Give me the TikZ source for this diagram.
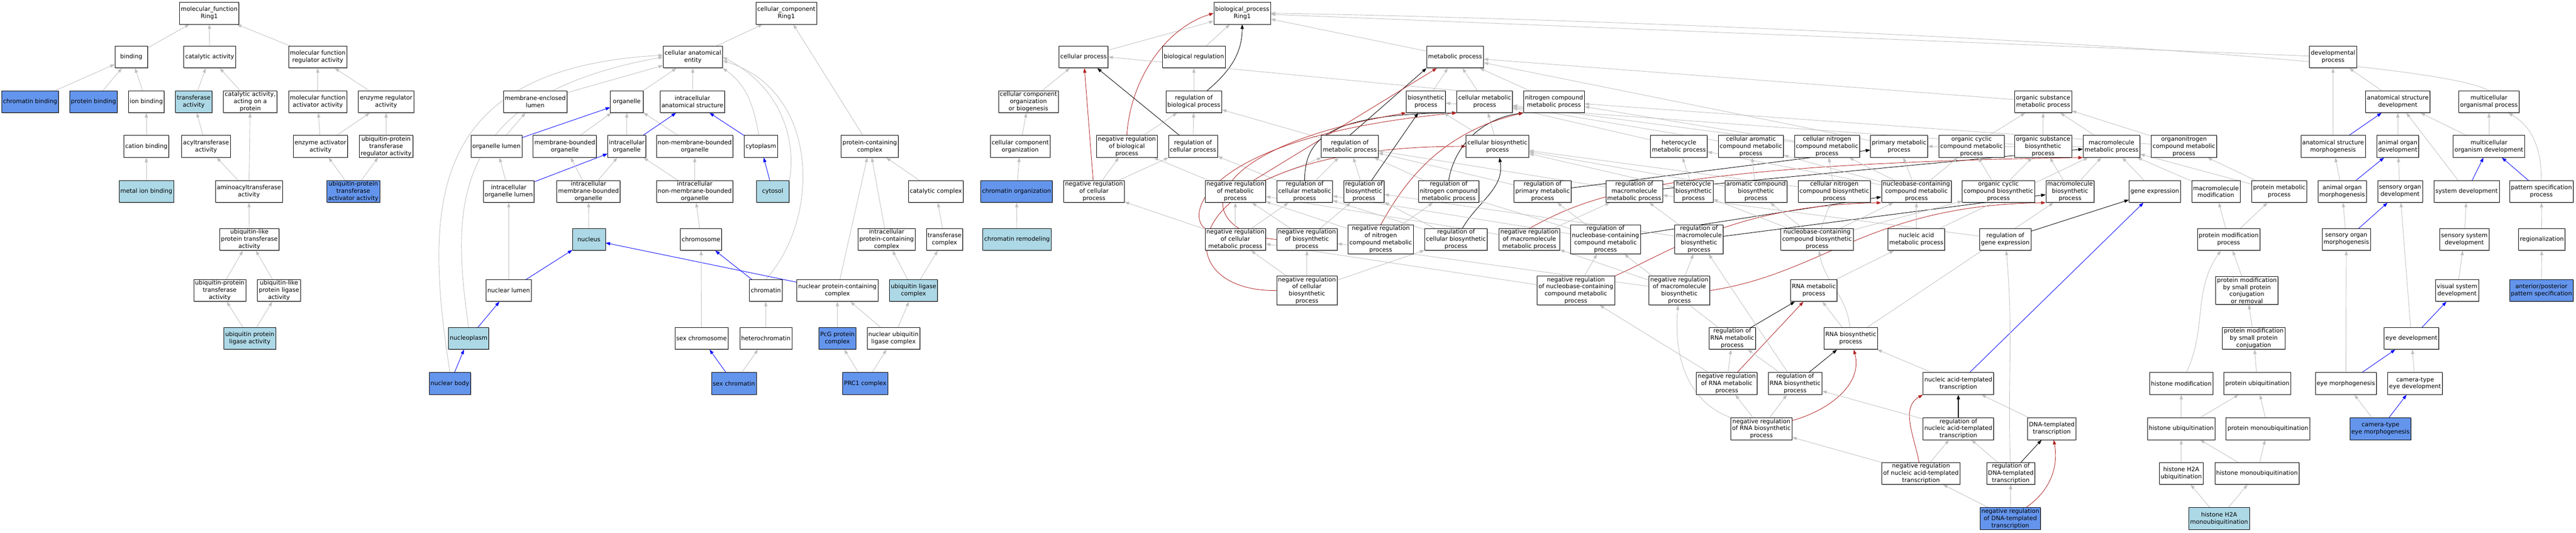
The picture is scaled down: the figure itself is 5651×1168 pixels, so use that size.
\documentclass[tikz,border=0pt]{standalone}
\usepackage{fontspec}
\setmainfont{DejaVu Sans}
\usetikzlibrary{arrows.meta,shadows}
\definecolor{hitblue}{HTML}{6495ED}
\definecolor{ancblue}{HTML}{ADD8E6}
\definecolor{edgegray}{HTML}{C0C0C0}
\definecolor{negred}{HTML}{B22222}
\pgfdeclarelayer{background}
\pgfsetlayers{background,main}
\tikzset{
  term/.style={draw=black, fill=white, line width=0.9pt, minimum width=72pt, minimum height=48pt,
    inner xsep=3pt, inner ysep=2pt, align=center, font=\fontsize{13}{15.6}\selectfont,
    drop shadow={shadow xshift=1.2pt, shadow yshift=-1.2pt, fill=black!60}},
  hit/.style={term, fill=hitblue},
  anc/.style={term, fill=ancblue},
  isa/.style={draw=edgegray, line width=1pt, -{Triangle[length=10pt,width=7pt]}},
  partof/.style={draw=blue, line width=1pt, -{Triangle[length=10pt,width=7pt]}},
  regby/.style={draw=black, line width=1pt, -{Triangle[length=10pt,width=7pt]}},
  negreg/.style={draw=negred, line width=1pt, -{Triangle[length=10pt,width=7pt]}}
}
\begin{document}
\begin{tikzpicture}[x=1pt,y=-1pt]
\useasboundingbox (0,0) rectangle (5651,1168);
% molecular function
\node[term] (mfroot) at (459,29) {molecular\_function\\Ring1};
\node[term] (binding) at (288,125) {binding};
\node[term] (catact) at (460,125) {catalytic activity};
\node[term] (mfreg) at (697,125) {molecular function\\regulator activity};
\node[hit] (chrbind) at (66,223) {chromatin binding};
\node[hit] (protbind) at (205,223) {protein binding};
\node[term] (ionbind) at (321,223) {ion binding};
\node[anc] (transf) at (425,223) {transferase\\activity};
\node[term] (catprot) at (549,223) {catalytic activity,\\acting on a\\protein};
\node[term] (mfact) at (697,223) {molecular function\\activator activity};
\node[term] (enzreg) at (847,223) {enzyme regulator\\activity};
\node[term] (catbind) at (321,321) {cation binding};
\node[term] (acyl) at (452,321) {acyltransferase\\activity};
\node[term] (enzact) at (703,321) {enzyme activator\\activity};
\node[term] (ubreg) at (847,321) {ubiquitin-protein\\transferase\\regulator activity};
\node[anc] (metbind) at (321,420) {metal ion binding};
\node[term] (aminoacyl) at (546,420) {aminoacyltransferase\\activity};
\node[hit] (ubact) at (775,420) {ubiquitin-protein\\transferase\\activator activity};
\node[term] (ubltrans) at (547,525) {ubiquitin-like\\protein transferase\\activity};
\node[term] (ubptrans) at (482,637) {ubiquitin-protein\\transferase\\activity};
\node[term] (ublig) at (612,637) {ubiquitin-like\\protein ligase\\activity};
\node[anc] (ubplig) at (548,742) {ubiquitin protein\\ligase activity};
% cellular component
\node[term] (ccroot) at (1725,29) {cellular\_component\\Ring1};
\node[term] (cae) at (1520,125) {cellular anatomical\\entity};
\node[term] (memlumen) at (1174,223) {membrane-enclosed\\lumen};
\node[term] (organelle) at (1375,223) {organelle};
\node[term] (ias) at (1519,223) {intracellular\\anatomical structure};
\node[term] (orglumen) at (1089,321) {organelle lumen};
\node[term] (mbo) at (1239,321) {membrane-bounded\\organelle};
\node[term] (io) at (1375,321) {intracellular\\organelle};
\node[term] (nmbo) at (1524,321) {non-membrane-bounded\\organelle};
\node[term] (cytoplasm) at (1669,321) {cytoplasm};
\node[term] (pcc) at (1908,321) {protein-containing\\complex};
\node[term] (iol) at (1116,420) {intracellular\\organelle lumen};
\node[term] (imbo) at (1291,420) {intracellular\\membrane-bounded\\organelle};
\node[term] (inmbo) at (1524,420) {intracellular\\non-membrane-bounded\\organelle};
\node[anc] (cytosol) at (1695,420) {cytosol};
\node[term] (catcomplex) at (2053,420) {catalytic complex};
\node[anc] (nucleus) at (1292,525) {nucleus};
\node[term] (chromosome) at (1538,525) {chromosome};
\node[term] (ipcc) at (1945,525) {intracellular\\protein-containing\\complex};
\node[term] (tcomplex) at (2072,525) {transferase\\complex};
\node[term] (nuclumen) at (1116,637) {nuclear lumen};
\node[term] (chromatin) at (1680,637) {chromatin};
\node[term] (npcc) at (1837,637) {nuclear protein-containing\\complex};
\node[anc] (ulc) at (2004,637) {ubiquitin ligase\\complex};
\node[anc] (nucleoplasm) at (1028,742) {nucleoplasm};
\node[term] (sexchrom) at (1539,742) {sex chromosome};
\node[term] (heterochr) at (1680,742) {heterochromatin};
\node[hit] (pcg) at (1837,742) {PcG protein\\complex};
\node[term] (nulc) at (1960,742) {nuclear ubiquitin\\ligase complex};
\node[hit] (nucbody) at (987,841) {nuclear body};
\node[hit] (sexchromatin) at (1610,841) {sex chromatin};
\node[hit] (prc1) at (1898,841) {PRC1 complex};
% biological process
\node[term] (bproot) at (2725,29) {biological\_process\\Ring1};
\node[term] (cellproc) at (2377,125) {cellular process};
\node[term] (bioreg) at (2619,125) {biological regulation};
\node[term] (metproc) at (3192,125) {metabolic process};
\node[term] (devproc) at (5118,125) {developmental\\process};
\node[term] (ccob) at (2256,223) {cellular component\\organization\\or biogenesis};
\node[term] (regbp) at (2619,223) {regulation of\\biological process};
\node[term] (biosyn) at (3128,223) {biosynthetic\\process};
\node[term] (cellmet) at (3257,223) {cellular metabolic\\process};
\node[term] (ncmp) at (3409,223) {nitrogen compound\\metabolic process};
\node[term] (osmp) at (4482,223) {organic substance\\metabolic process};
\node[term] (asd) at (5260,223) {anatomical structure\\development};
\node[term] (mop) at (5460,223) {multicellular\\organismal process};
\node[term] (cco) at (2238,321) {cellular component\\organization};
\node[term] (nrbp) at (2472,321) {negative regulation\\of biological\\process};
\node[term] (regcp) at (2617,321) {regulation of\\cellular process};
\node[term] (regmp) at (2961,321) {regulation of\\metabolic process};
\node[term] (cellbiosyn) at (3285,321) {cellular biosynthetic\\process};
\node[term] (hetmet) at (3683,321) {heterocycle\\metabolic process};
\node[term] (camp) at (3841,321) {cellular aromatic\\compound metabolic\\process};
\node[term] (cncmp) at (4008,321) {cellular nitrogen\\compound metabolic\\process};
\node[term] (pmp) at (4166,321) {primary metabolic\\process};
\node[term] (occmp) at (4325,321) {organic cyclic\\compound metabolic\\process};
\node[term] (osbp) at (4482,321) {organic substance\\biosynthetic\\process};
\node[term] (mmp) at (4632,321) {macromolecule\\metabolic process};
\node[term] (oncmp) at (4791,321) {organonitrogen\\compound metabolic\\process};
\node[term] (asm) at (5118,321) {anatomical structure\\morphogenesis};
\node[term] (aod) at (5260,321) {animal organ\\development};
\node[term] (mod) at (5460,321) {multicellular\\organism development};
\node[hit] (chrorg) at (2230,420) {chromatin organization};
\node[term] (nrcp) at (2400,420) {negative regulation\\of cellular\\process};
\node[term] (nrmp) at (2710,420) {negative regulation\\of metabolic\\process};
\node[term] (regcmp) at (2862,420) {regulation of\\cellular metabolic\\process};
\node[term] (regbiosyn) at (2992,420) {regulation of\\biosynthetic\\process};
\node[term] (regncmp) at (3178,420) {regulation of\\nitrogen compound\\metabolic process};
\node[term] (regpmp) at (3384,420) {regulation of\\primary metabolic\\process};
\node[term] (regmmp) at (3585,420) {regulation of\\macromolecule\\metabolic process};
\node[term] (hetbiosyn) at (3715,420) {heterocycle\\biosynthetic\\process};
\node[term] (acbp) at (3852,420) {aromatic compound\\biosynthetic\\process};
\node[term] (cncbp) at (4024,420) {cellular nitrogen\\compound biosynthetic\\process};
\node[term] (nccmp) at (4204,420) {nucleobase-containing\\compound metabolic\\process};
\node[term] (occbp) at (4384,420) {organic cyclic\\compound biosynthetic\\process};
\node[term] (mbp) at (4541,420) {macromolecule\\biosynthetic\\process};
\node[term] (geneexp) at (4727,420) {gene expression};
\node[term] (macmod) at (4861,420) {macromolecule\\modification};
\node[term] (protmet) at (5000,420) {protein metabolic\\process};
\node[term] (aom) at (5138,420) {animal organ\\morphogenesis};
\node[term] (sod) at (5265,420) {sensory organ\\development};
\node[term] (sysdev) at (5411,420) {system development};
\node[term] (psp) at (5575,420) {pattern specification\\process};
\node[anc] (chrremod) at (2231,525) {chromatin remodeling};
\node[term] (nrcmp) at (2710,525) {negative regulation\\of cellular\\metabolic process};
\node[term] (nrbiosyn) at (2867,525) {negative regulation\\of biosynthetic\\process};
\node[term] (nrncmp) at (3029,525) {negative regulation\\of nitrogen\\compound metabolic\\process};
\node[term] (regcbp) at (3194,525) {regulation of\\cellular biosynthetic\\process};
\node[term] (nrmmp) at (3355,525) {negative regulation\\of macromolecule\\metabolic process};
\node[term] (regnccmp) at (3522,525) {regulation of\\nucleobase-containing\\compound metabolic\\process};
\node[term] (regmbp) at (3727,525) {regulation of\\macromolecule\\biosynthetic\\process};
\node[term] (nccbp) at (3986,525) {nucleobase-containing\\compound biosynthetic\\process};
\node[term] (nucacid) at (4204,525) {nucleic acid\\metabolic process};
\node[term] (reggeneexp) at (4399,525) {regulation of\\gene expression};
\node[term] (protmod) at (4889,525) {protein modification\\process};
\node[term] (som) at (5147,525) {sensory organ\\morphogenesis};
\node[term] (ssd) at (5406,525) {sensory system\\development};
\node[term] (regionalization) at (5576,525) {regionalization};
\node[term] (nrcbp) at (2867,637) {negative regulation\\of cellular\\biosynthetic\\process};
\node[term] (nrnccmp) at (3457,637) {negative regulation\\of nucleobase-containing\\compound metabolic\\process};
\node[term] (nrmbp) at (3684,637) {negative regulation\\of macromolecule\\biosynthetic\\process};
\node[term] (rnamet) at (3979,637) {RNA metabolic\\process};
\node[term] (pmspcr) at (4929,637) {protein modification\\by small protein\\conjugation\\or removal};
\node[term] (vsd) at (5390,637) {visual system\\development};
\node[hit] (apps) at (5575,637) {anterior/posterior\\pattern specification};
\node[term] (regrnamet) at (3800,742) {regulation of\\RNA metabolic\\process};
\node[term] (rnabiosyn) at (4060,742) {RNA biosynthetic\\process};
\node[term] (pmspc) at (4944,742) {protein modification\\by small protein\\conjugation};
\node[term] (eyedev) at (5290,742) {eye development};
\node[term] (nrrnamet) at (3788,841) {negative regulation\\of RNA metabolic\\process};
\node[term] (regrnabiosyn) at (3938,841) {regulation of\\RNA biosynthetic\\process};
\node[term] (natt) at (4296,841) {nucleic acid-templated\\transcription};
\node[term] (histmod) at (4785,841) {histone modification};
\node[term] (protubq) at (4952,841) {protein ubiquitination};
\node[term] (eyemorph) at (5146,841) {eye morphogenesis};
\node[term] (ctedev) at (5298,841) {camera-type\\eye development};
\node[term] (nrrnabiosyn) at (3864,940) {negative regulation\\of RNA biosynthetic\\process};
\node[term] (regnatt) at (4296,940) {regulation of\\nucleic acid-templated\\transcription};
\node[term] (dtt) at (4501,940) {DNA-templated\\transcription};
\node[term] (histubq) at (4785,940) {histone ubiquitination};
\node[term] (protmono) at (4975,940) {protein monoubiquitination};
\node[hit] (ctem) at (5222,940) {camera-type\\eye morphogenesis};
\node[term] (nrnatt) at (4214,1038) {negative regulation\\of nucleic acid-templated\\transcription};
\node[term] (regdtt) at (4411,1038) {regulation of\\DNA-templated\\transcription};
\node[term] (h2aubq) at (4785,1038) {histone H2A\\ubiquitination};
\node[term] (histmono) at (4951,1038) {histone monoubiquitination};
\node[hit] (nrdtt) at (4410,1137) {negative regulation\\of DNA-templated\\transcription};
\node[anc] (h2amono) at (4868,1137) {histone H2A\\monoubiquitination};
\begin{pgfonlayer}{background}
\fill[white] (0,0) rectangle (5651,1168);
% molecular function edges
\draw[isa] (binding) -- (mfroot); \draw[isa] (catact) -- (mfroot); \draw[isa] (mfreg) -- (mfroot);
\draw[isa] (chrbind) -- (binding); \draw[isa] (protbind) -- (binding); \draw[isa] (ionbind) -- (binding);
\draw[isa] (transf) -- (catact); \draw[isa] (catprot) -- (catact);
\draw[isa] (mfact) -- (mfreg); \draw[isa] (enzreg) -- (mfreg);
\draw[isa] (catbind) -- (ionbind); \draw[isa] (metbind) -- (catbind); \draw[isa] (acyl) -- (transf);
\draw[isa] (enzact) -- (mfact); \draw[isa] (enzact) -- (enzreg); \draw[isa] (ubreg) -- (enzreg);
\draw[isa] (aminoacyl) -- (acyl); \draw[isa] (aminoacyl) -- (catprot);
\draw[isa] (ubact) -- (enzact); \draw[isa] (ubact) -- (ubreg);
\draw[isa] (ubltrans) -- (aminoacyl);
\draw[isa] (ubptrans) -- (ubltrans); \draw[isa] (ublig) -- (ubltrans);
\draw[isa] (ubplig) -- (ubptrans); \draw[isa] (ubplig) -- (ublig);
% cellular component edges
\draw[isa] (cae) -- (ccroot); \draw[isa] (pcc) -- (ccroot);
\draw[isa] (memlumen) -- (cae); \draw[isa] (organelle) -- (cae); \draw[isa] (ias) -- (cae);
\draw[isa] (cytoplasm) to[out=100,in=-35] (cae.south east);
\draw[isa] (cytosol.north east) .. controls (1745,330) and (1730,200) .. (cae.east);
\draw[isa] (chromatin.north) .. controls (1800,480) and (1800,200) .. ([yshift=-8pt]cae.east);
\draw[isa] (nucleoplasm.north) .. controls (990,450) and (985,210) .. (cae.west);
\draw[isa] (nucbody.north) .. controls (930,450) and (935,150) .. ([yshift=4pt]cae.west);
\draw[isa] (orglumen) -- (memlumen); \draw[partof] (orglumen) -- (organelle);
\draw[isa] (mbo) -- (organelle); \draw[isa] (io) -- (organelle); \draw[isa] (nmbo) -- (organelle);
\draw[partof] (io) -- (ias); \draw[partof] (cytoplasm) -- (ias);
\draw[isa] (iol) -- (orglumen); \draw[partof] (iol) -- (io);
\draw[isa] (imbo) -- (mbo); \draw[isa] (imbo) -- (io);
\draw[isa] (inmbo) -- (io); \draw[isa] (inmbo) -- (nmbo);
\draw[partof] (cytosol) -- (cytoplasm);
\draw[isa] (nucleus) -- (imbo); \draw[isa] (chromosome) -- (inmbo);
\draw[isa] (nuclumen) -- (iol); \draw[partof] (nuclumen) -- (nucleus);
\draw[partof] (chromatin) -- (chromosome); \draw[partof] (npcc) -- (nucleus);
\draw[isa] (npcc) -- (pcc); \draw[isa] (ipcc) -- (pcc); \draw[isa] (catcomplex) -- (pcc);
\draw[isa] (tcomplex) -- (catcomplex); \draw[isa] (ulc) -- (ipcc); \draw[isa] (ulc) -- (tcomplex);
\draw[partof] (nucleoplasm) -- (nuclumen);
\draw[isa] (sexchrom) -- (chromosome); \draw[isa] (heterochr) -- (chromatin);
\draw[isa] (pcg) -- (npcc); \draw[isa] (nulc) -- (ulc); \draw[isa] (nulc) -- (npcc);
\draw[partof] (nucbody) -- (nucleoplasm);
\draw[partof] (sexchromatin) -- (sexchrom); \draw[isa] (sexchromatin) -- (heterochr);
\draw[isa] (prc1) -- (pcg); \draw[isa] (prc1) -- (nulc);
% biological process edges
\draw[isa] (cellproc) -- (bproot); \draw[isa] (bioreg) -- (bproot); \draw[isa] (metproc) -- (bproot);
\draw[isa] (devproc) -- (bproot);
\draw[isa] (mop.north) .. controls (5300,110) and (3500,40) .. (bproot.east);
\draw[isa] (ccob) -- (cellproc); \draw[isa] (cco) -- (ccob); \draw[isa] (chrorg) -- (cco);
\draw[isa] (chrremod) -- (chrorg);
\draw[isa] (regbp) -- (bioreg);
\draw[regby] (regbp) to[out=40,in=-90] (bproot);
\draw[negreg] (nrbp.north) .. controls (2480,170) and (2560,60) .. (bproot.west);
\draw[isa] (nrbp) -- (regbp); \draw[isa] (regcp) -- (regbp); \draw[isa] (regmp) -- (regbp);
\draw[regby] (regcp) -- (cellproc); \draw[negreg] (nrcp) -- (cellproc);
\draw[isa] (nrcp) -- (nrbp); \draw[isa] (nrcp) -- (regcp);
\draw[isa] (nrmp) -- (nrbp); \draw[isa] (nrmp) -- (regmp);
\draw[isa] (regcmp) -- (regcp); \draw[isa] (regcmp) -- (regmp);
\draw[isa] (cellmet.north west) -- (cellproc.east); \draw[isa] (cellmet) -- (metproc);
\draw[isa] (biosyn) -- (metproc); \draw[isa] (ncmp) -- (metproc);
\draw[isa] (osmp) -- (metproc); \draw[isa] (pmp) -- (metproc);
\draw[regby] (regmp.north) -- (metproc.south west); \draw[negreg] (nrmp) -- (metproc);
\draw[regby] (regcmp.north) .. controls (2862,300) and (2920,250) .. (cellmet.south west);
\draw[negreg] (nrcmp.north west) .. controls (2600,470) and (2640,300) .. (cellmet.south west);
\draw[negreg] (nrbiosyn.west) .. controls (2620,510) and (2600,330) .. (biosyn.south west);
\draw[negreg] (nrcbp.west) .. controls (2540,640) and (2570,320) .. (cellbiosyn.west);
\draw[isa] (cellbiosyn) -- (biosyn); \draw[isa] (cellbiosyn) -- (cellmet);
\draw[isa] (regbiosyn) -- (regmp); \draw[isa] (regncmp) -- (regmp);
\draw[isa] (regpmp) -- (regmp); \draw[isa] (regmmp) -- (regmp);
\draw[regby] (regbiosyn) -- (biosyn);
\draw[regby] (regncmp.north) .. controls (3190,320) and (3250,260) .. (ncmp.south west);
\draw[negreg] (nrncmp.north) .. controls (3080,400) and (3160,290) .. (ncmp.south west);
\draw[regby] (regcbp) to[out=60,in=-80] (cellbiosyn);
\draw[regby] (regpmp) -- (pmp); \draw[regby] (regmmp) -- (mmp);
\draw[negreg] (nrmmp.north) .. controls (3470,440) and (3600,360) .. (mmp.south west);
\draw[regby] (regnccmp) -- (nccmp);
\draw[negreg] (nrnccmp.north east) .. controls (3650,560) and (3800,450) .. (nccmp.south west);
\draw[regby] (regmbp) -- (mbp);
\draw[negreg] (nrmbp.east) .. controls (4000,600) and (4100,450) .. (mbp.south west);
\draw[isa] (nrcmp) -- (nrmp); \draw[isa] (nrcmp) -- (regcmp); \draw[isa] (nrcmp) -- (nrcp);
\draw[isa] (nrbiosyn) -- (nrmp); \draw[isa] (nrbiosyn) -- (regbiosyn);
\draw[isa] (nrncmp) -- (nrmp); \draw[isa] (nrncmp) -- (regncmp);
\draw[isa] (regcbp) -- (regbiosyn); \draw[isa] (regcbp) -- (regcmp);
\draw[isa] (nrmmp) -- (nrmp); \draw[isa] (nrmmp) -- (regmmp);
\draw[isa] (regnccmp) -- (regpmp); \draw[isa] (regnccmp) -- (regcmp); \draw[isa] (regnccmp) -- (regncmp);
\draw[isa] (regmbp) -- (regmmp); \draw[isa] (regmbp) -- (regbiosyn);
\draw[isa] (nrcbp) -- (nrbiosyn); \draw[isa] (nrcbp) -- (regcbp); \draw[isa] (nrcbp) -- (nrcmp);
\draw[isa] (nrnccmp) -- (regnccmp); \draw[isa] (nrnccmp) -- (nrcmp);
\draw[isa] (nrmbp) -- (regmbp); \draw[isa] (nrmbp) -- (nrmmp); \draw[isa] (nrmbp) -- (nrbiosyn);
\draw[isa] (hetmet) -- (cellmet); \draw[isa] (camp) -- (cellmet);
\draw[isa] (cncmp) -- (cellmet); \draw[isa] (cncmp) -- (ncmp);
\draw[isa] (hetbiosyn) -- (hetmet); \draw[isa] (hetbiosyn) -- (cellbiosyn);
\draw[isa] (acbp) -- (camp); \draw[isa] (acbp) -- (cellbiosyn);
\draw[isa] (cncbp) -- (cncmp); \draw[isa] (cncbp) -- (cellbiosyn);
\draw[isa] (nccmp) -- (cncmp); \draw[isa] (nccmp) -- (pmp); \draw[isa] (nccmp) -- (occmp);
\draw[isa] (nccmp) -- (hetmet); \draw[isa] (nccmp) -- (camp);
\draw[isa] (occmp) -- (osmp); \draw[isa] (osbp) -- (osmp); \draw[isa] (osbp) -- (biosyn);
\draw[isa] (mmp) -- (osmp); \draw[isa] (mmp) -- (pmp);
\draw[isa] (oncmp) -- (osmp); \draw[isa] (oncmp) -- (ncmp);
\draw[isa] (occbp) -- (occmp); \draw[isa] (occbp) -- (osbp);
\draw[isa] (mbp) -- (osbp); \draw[isa] (mbp) -- (mmp);
\draw[isa] (nccbp) -- (cncbp); \draw[isa] (nccbp) -- (acbp); \draw[isa] (nccbp) -- (nccmp);
\draw[isa] (nccbp) -- (hetbiosyn); \draw[isa] (nccbp) -- (occbp);
\draw[isa] (nucacid) -- (nccmp); \draw[isa] (nucacid) -- (mmp);
\draw[isa] (geneexp) -- (mmp);
\draw[isa] (rnamet) -- (nucacid);
\draw[isa] (regrnamet) -- (regnccmp);
\draw[isa] (rnabiosyn) -- (rnamet); \draw[isa] (rnabiosyn) to[out=95,in=-80] (nccbp);
\draw[isa] (rnabiosyn) -- (mbp);
\draw[regby] (regrnamet) -- (rnamet); \draw[negreg] (nrrnamet) -- (rnamet);
\draw[regby] (regrnabiosyn) -- (rnabiosyn);
\draw[negreg] (nrrnabiosyn) to[out=15,in=-75] (rnabiosyn);
\draw[isa] (nrrnamet) -- (regrnamet); \draw[isa] (nrrnamet) -- (nrnccmp);
\draw[isa] (regrnabiosyn) -- (regrnamet); \draw[isa] (regrnabiosyn) -- (regmbp);
\draw[isa] (nrrnabiosyn) -- (nrrnamet); \draw[isa] (nrrnabiosyn) -- (regrnabiosyn);
\draw[isa] (nrrnabiosyn) to[out=160,in=-95] (nrmbp);
\draw[isa] (natt) -- (rnabiosyn); \draw[partof] (natt) -- (geneexp);
\draw[isa] (regnatt) -- (regrnabiosyn);
\draw[regby, line width=2pt] (regnatt) -- (natt);
\draw[isa] (nrnatt) -- (regnatt); \draw[isa] (nrnatt) -- (nrrnabiosyn);
\draw[negreg] (nrnatt) to[out=100,in=-150] (natt.south west);
\draw[isa] (dtt) -- (natt);
\draw[isa] (regdtt) -- (regnatt); \draw[isa] (regdtt) to[out=92,in=-85] (reggeneexp);
\draw[regby] (regdtt) -- (dtt);
\draw[isa] (nrdtt) -- (regdtt); \draw[isa] (nrdtt) -- (nrnatt);
\draw[negreg] (nrdtt) to[out=35,in=-80] (dtt);
\draw[regby] (reggeneexp) -- (geneexp); \draw[isa] (reggeneexp) -- (regmmp);
% protein modification edges
\draw[isa] (macmod) -- (mmp); \draw[isa] (protmet) -- (mmp); \draw[isa] (protmet) -- (oncmp);
\draw[isa] (protmod) -- (macmod); \draw[isa] (protmod) -- (protmet);
\draw[isa] (pmspcr) -- (protmod); \draw[isa] (pmspc) -- (pmspcr); \draw[isa] (protubq) -- (pmspc);
\draw[isa] (histmod) to[out=65,in=-125] (protmod);
\draw[isa] (histubq) -- (histmod); \draw[isa] (histubq) -- (protubq);
\draw[isa] (protmono) -- (protubq);
\draw[isa] (h2aubq) -- (histubq); \draw[isa] (histmono) -- (histubq); \draw[isa] (histmono) -- (protmono);
\draw[isa] (h2amono) -- (h2aubq); \draw[isa] (h2amono) -- (histmono);
% development edges
\draw[isa] (asm) -- (devproc); \draw[isa] (asd) -- (devproc);
\draw[partof] (asm) -- (asd); \draw[isa] (aod) -- (asd);
\draw[isa] (mod) -- (asd); \draw[isa] (mod) -- (mop);
\draw[isa] (sysdev) -- (asd); \draw[partof] (sysdev) -- (mod);
\draw[isa] (psp) to[out=90,in=-30] (mop); \draw[partof] (psp) -- (mod);
\draw[isa] (aom) -- (asm); \draw[partof] (aom) -- (aod);
\draw[isa] (sod) -- (aod);
\draw[isa] (som) -- (aom); \draw[partof] (som) -- (sod);
\draw[isa] (ssd) -- (sysdev); \draw[isa] (regionalization) -- (psp);
\draw[isa] (vsd) -- (ssd); \draw[isa] (apps) -- (regionalization);
\draw[isa] (eyedev) -- (sod); \draw[partof] (eyedev) -- (vsd);
\draw[isa] (eyemorph) -- (som); \draw[partof] (eyemorph) -- (eyedev);
\draw[isa] (ctedev) -- (eyedev);
\draw[isa] (ctem) -- (eyemorph); \draw[partof] (ctem) -- (ctedev);
\end{pgfonlayer}
\end{tikzpicture}
\end{document}
